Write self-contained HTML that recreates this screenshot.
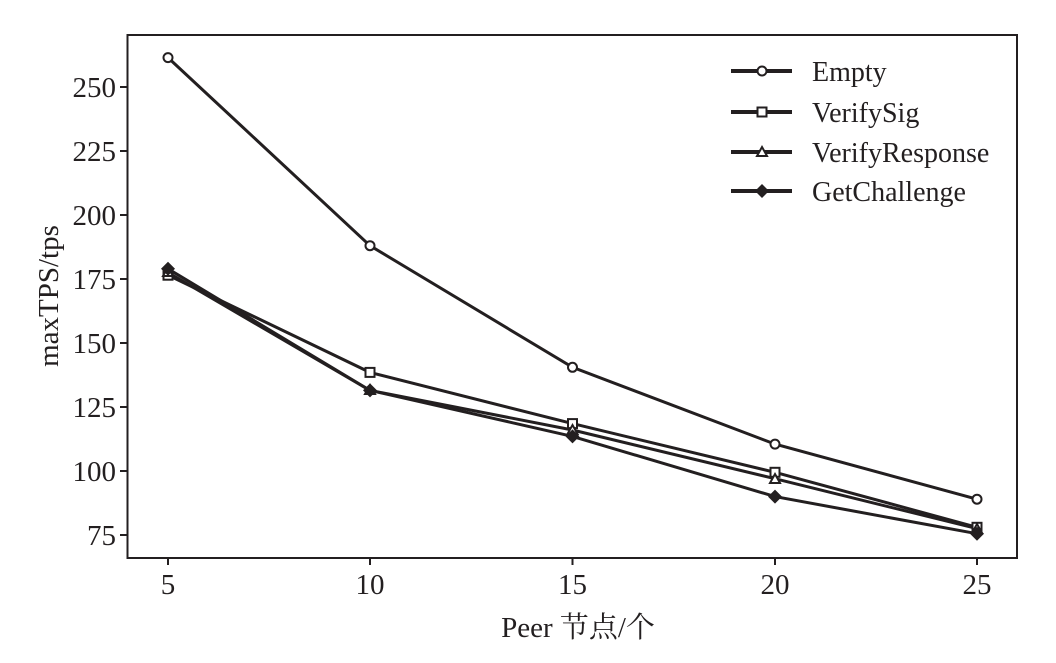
<!DOCTYPE html>
<html><head><meta charset="utf-8"><style>
html,body{margin:0;padding:0;background:#fff;}
svg{display:block;}
text{font-family:"Liberation Serif","Noto Serif CJK SC",serif;fill:#231f20;}
</style></head><body>
<svg width="1056" height="663" viewBox="0 0 1056 663" xmlns="http://www.w3.org/2000/svg">
<rect x="127.5" y="35" width="889.5" height="523" fill="none" stroke="#231f20" stroke-width="2"/>
<g stroke="#231f20" stroke-width="2">
<line x1="120" y1="87" x2="127.5" y2="87"/>
<line x1="120" y1="151" x2="127.5" y2="151"/>
<line x1="120" y1="215" x2="127.5" y2="215"/>
<line x1="120" y1="279" x2="127.5" y2="279"/>
<line x1="120" y1="343" x2="127.5" y2="343"/>
<line x1="120" y1="407" x2="127.5" y2="407"/>
<line x1="120" y1="471" x2="127.5" y2="471"/>
<line x1="120" y1="535" x2="127.5" y2="535"/>
<line x1="168" y1="558" x2="168" y2="565"/>
<line x1="370" y1="558" x2="370" y2="565"/>
<line x1="572.5" y1="558" x2="572.5" y2="565"/>
<line x1="775" y1="558" x2="775" y2="565"/>
<line x1="977" y1="558" x2="977" y2="565"/>
</g>
<g font-size="29" text-anchor="end">
<text x="116" y="97">250</text>
<text x="116" y="161">225</text>
<text x="116" y="225">200</text>
<text x="116" y="289">175</text>
<text x="116" y="353">150</text>
<text x="116" y="417">125</text>
<text x="116" y="481">100</text>
<text x="116" y="545">75</text>
</g>
<g font-size="29" text-anchor="middle">
<text x="168" y="594">5</text>
<text x="370" y="594">10</text>
<text x="572.5" y="594">15</text>
<text x="775" y="594">20</text>
<text x="977" y="594">25</text>
<text x="578" y="637">Peer 节点/个</text>
<text transform="translate(58,296) rotate(-90)">maxTPS/tps</text>
</g>
<g fill="none" stroke="#231f20" stroke-width="3">
<polyline points="168,57.6 370,245.7 572.5,367.3 775,444.1 977,499.2"/>
<polyline points="168,275.2 370,372.4 572.5,423.6 775,472.3 977,527.3"/>
<polyline points="168,272.6 370,390.4 572.5,430 775,478.7 977,528.6"/>
<polyline points="168,268.8 370,390.4 572.5,436.4 775,496.6 977,533.7"/>
</g>
<g fill="#fff" stroke="#231f20" stroke-width="2">
<circle cx="168" cy="57.6" r="4.5"/><circle cx="370" cy="245.7" r="4.5"/><circle cx="572.5" cy="367.3" r="4.5"/><circle cx="775" cy="444.1" r="4.5"/><circle cx="977" cy="499.2" r="4.5"/>
<rect x="163.5" y="270.7" width="9" height="9"/><rect x="365.5" y="367.9" width="9" height="9"/><rect x="568" y="419.1" width="9" height="9"/><rect x="770.5" y="467.8" width="9" height="9"/><rect x="972.5" y="522.8" width="9" height="9"/>
<polygon points="168,267 173,276 163,276"/><polygon points="370,385 375,394 365,394"/><polygon points="572.5,425 577.5,434 567.5,434"/><polygon points="775,474 780,483 770,483"/><polygon points="977,524 982,533 972,533"/>
</g>
<g fill="#231f20">
<polygon points="168,261.8 175,268.8 168,275.8 161,268.8"/><polygon points="370,383.4 377,390.4 370,397.4 363,390.4"/><polygon points="572.5,429.4 579.5,436.4 572.5,443.4 565.5,436.4"/><polygon points="775,489.6 782,496.6 775,503.6 768,496.6"/><polygon points="977,526.7 984,533.7 977,540.7 970,533.7"/>
</g>
<g stroke="#231f20" stroke-width="4">
<line x1="731" y1="71" x2="792" y2="71"/>
<line x1="731" y1="112" x2="792" y2="112"/>
<line x1="731" y1="152" x2="792" y2="152"/>
<line x1="731" y1="191" x2="792" y2="191"/>
</g>
<g fill="#fff" stroke="#231f20" stroke-width="2">
<circle cx="762" cy="71" r="4.5"/>
<rect x="757.5" y="107.5" width="9" height="9"/>
<polygon points="762,147 767,156 757,156"/>
</g>
<polygon points="762,184 769,191 762,198 755,191" fill="#231f20"/>
<g font-size="28">
<text x="812" y="81">Empty</text>
<text x="812" y="122">VerifySig</text>
<text x="812" y="162">VerifyResponse</text>
<text x="812" y="201">GetChallenge</text>
</g>
</svg>
</body></html>
